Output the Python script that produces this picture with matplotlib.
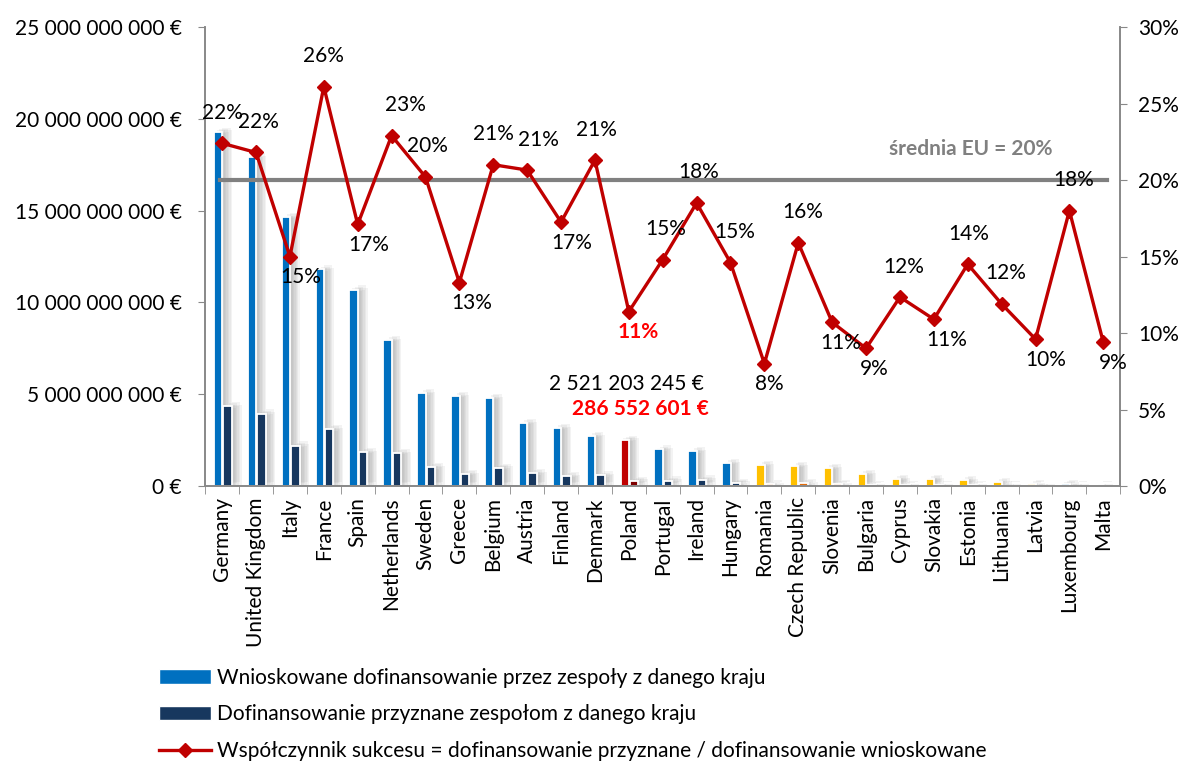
import numpy as np
import matplotlib
matplotlib.use('Agg')
import matplotlib.pyplot as plt
import matplotlib.patheffects as pe
from matplotlib.lines import Line2D
from matplotlib.patches import Patch

plt.rcParams['font.family'] = ['Lato', 'DejaVu Sans']

# ─── DATA ─────────────────────────────────────────────
countries = ['Germany', 'United Kingdom', 'Italy', 'France', 'Spain', 'Netherlands',
             'Sweden', 'Greece', 'Belgium', 'Austria', 'Finland', 'Denmark', 'Poland',
             'Portugal', 'Ireland', 'Hungary', 'Romania', 'Czech Republic', 'Slovenia',
             'Bulgaria', 'Cyprus', 'Slovakia', 'Estonia', 'Lithuania', 'Latvia',
             'Luxembourg', 'Malta']
requested = [19.3e9, 17.9e9, 14.65e9, 11.8e9, 10.7e9, 7.95e9, 5.06e9, 4.9e9, 4.8e9,
             3.43e9, 3.16e9, 2.72e9, 2521203245, 2.0e9, 1.9e9, 1.25e9, 1.15e9, 1.09e9,
             0.98e9, 0.65e9, 0.38e9, 0.38e9, 0.33e9, 0.22e9, 0.10e9, 0.12e9, 0.03e9]
granted = [4.35e9, 3.95e9, 2.2e9, 3.1e9, 1.85e9, 1.8e9, 1.03e9, 0.65e9, 1.0e9,
           0.7e9, 0.55e9, 0.58e9, 286552601, 0.3e9, 0.35e9, 0.18e9, 0.09e9, 0.17e9,
           0.1e9, 0.06e9, 0.045e9, 0.04e9, 0.05e9, 0.026e9, 0.01e9, 0.02e9, 0.003e9]
rate = [22.4, 21.8, 15.0, 26.1, 17.1, 22.9, 20.2, 13.3, 21.0, 20.65, 17.25, 21.3, 11.4,
        14.8, 18.5, 14.6, 8.0, 15.9, 10.7, 9.0, 12.35, 10.9, 14.5, 11.9, 9.6, 18.0, 9.4]
rate_labels = ['22%', '22%', '15%', '26%', '17%', '23%', '20%', '13%', '21%', '21%',
               '17%', '21%', '11%', '15%', '18%', '15%', '8%', '16%', '11%', '9%',
               '12%', '11%', '14%', '12%', '10%', '18%', '9%']
# grupa kolorów: 'old' = niebieski, 'pl' = Polska, 'new' = żółty
group = ['old'] * 12 + ['pl'] + ['old'] * 3 + ['new'] * 9 + ['old'] + ['new']
eu_avg = 20

# ─── KOLORY ───────────────────────────────────────────
req_col = {'old': '#0070C0', 'pl': '#C00000', 'new': '#FFC000'}
gr_col = {'old': '#17375E', 'pl': '#7F0000', 'new': '#E46C0A'}
line_col = '#C00000'

fig = plt.figure(figsize=(11.93, 7.63), dpi=100)
ax = fig.add_axes([0.172, 0.363, 0.767, 0.6016])
ax2 = ax.twinx()

x = np.arange(len(countries))
# miękki cień: kilka warstw z małą przezroczystością
shadow = [pe.SimplePatchShadow(offset=(dx, dy), shadow_rgbFace='#808080', alpha=0.09)
          for dx, dy in [(2, 1), (4, 2), (6, 3), (3, -1), (5, 0), (7, 1)]] + [pe.Normal()]
b1 = ax.bar(x - 0.12, requested, width=0.25, color=[req_col[g] for g in group],
            edgecolor='white', linewidth=1.3, zorder=2)
b2 = ax.bar(x + 0.16, granted, width=0.25, color=[gr_col[g] for g in group],
            edgecolor='white', linewidth=1.3, zorder=2)
for r in list(b1) + list(b2):
    r.set_path_effects(shadow)

ax.set_xlim(-0.5, len(countries) - 0.5)
ax.set_ylim(0, 25e9)
ax.set_yticks(np.arange(0, 25e9 + 1, 5e9))
ax.set_yticklabels([f'{int(v):,} €'.replace(',', ' ') for v in np.arange(0, 25e9 + 1, 5e9)],
                   fontsize=15)
ax.set_xticks(x)
ax.set_xticklabels(countries, rotation=90, fontsize=15)
ax.tick_params(axis='x', length=0, pad=8)
ax.set_xticks(np.arange(-0.5, len(countries)), minor=True)
ax.tick_params(axis='x', which='minor', length=6, color='#888888')
ax.tick_params(axis='y', length=5, color='#888888', pad=12)

# ─── PRAWA OŚ: WSPÓŁCZYNNIK SUKCESU ──────────────────
ax2.set_ylim(0, 30)
ax2.set_yticks(np.arange(0, 31, 5))
ax2.set_yticklabels([f'{v}%' for v in range(0, 31, 5)], fontsize=15)
ax2.tick_params(axis='y', length=5, color='#888888', pad=8)
ax2.plot([-0.05, 26.1], [eu_avg, eu_avg], color='#808080', lw=3, zorder=3)
ax2.text(22.1, 22.0, 'średnia EU = 20%', color='#808080', fontsize=15,
         fontweight='bold', ha='center', va='center')
ax2.plot(x, rate, color=line_col, lw=2.4, marker='D', markersize=7, zorder=4)

above = [1, 1, 0, 1, 0, 1, 1, 0, 1, 1, 0, 1, 0, 1, 1, 1, 0, 1, 0, 0, 1, 0, 1, 1, 0, 1, 0]
# przesunięcie etykiet w poziomie (piksele)
dx_px = [0, 2, 11, 0, 11, 14, 2, 12, 0, 11, 11, 2, 9, 3, 2, 4, 5, 4, 9, 8, 4, 13, 1, 4, 10, 4, 10]
for i, (r, lab) in enumerate(zip(rate, rate_labels)):
    dy = 22 if above[i] else -15
    col = 'red' if countries[i] == 'Poland' else 'black'
    fw = 'bold' if countries[i] == 'Poland' else 'normal'
    ax2.annotate(lab, (i, r), xytext=(dx_px[i] * 0.72, dy), textcoords='offset points',
                 ha='center', va='center', fontsize=15, color=col, fontweight=fw, zorder=5)

ax.text(11.94, 5.56e9, '2 521 203 245 €', ha='center', va='center', fontsize=15)
ax.text(12.35, 4.19e9, '286 552 601 €', ha='center', va='center', fontsize=15,
        color='red', fontweight='bold')

for a in (ax, ax2):
    a.spines['top'].set_visible(False)
    for s in ('left', 'right', 'bottom'):
        a.spines[s].set_color('#888888')
        a.spines[s].set_linewidth(1.2)

handles = [Patch(facecolor='#0070C0', edgecolor='white'),
           Patch(facecolor='#17375E', edgecolor='white'),
           Line2D([0], [0], color=line_col, lw=2.4, marker='D', markersize=7)]
labels = ['Wnioskowane dofinansowanie przez zespoły z danego kraju',
          'Dofinansowanie przyznane zespołom z danego kraju',
          'Współczynnik sukcesu = dofinansowanie przyznane / dofinansowanie wnioskowane']
fig.legend(handles, labels, loc='upper left', bbox_to_anchor=(0.126, 0.136),
           frameon=False, fontsize=15, handlelength=2.5, handleheight=0.7,
           labelspacing=0.8, handletextpad=0.3, borderaxespad=0)

fig.savefig('out.png', dpi=100)
